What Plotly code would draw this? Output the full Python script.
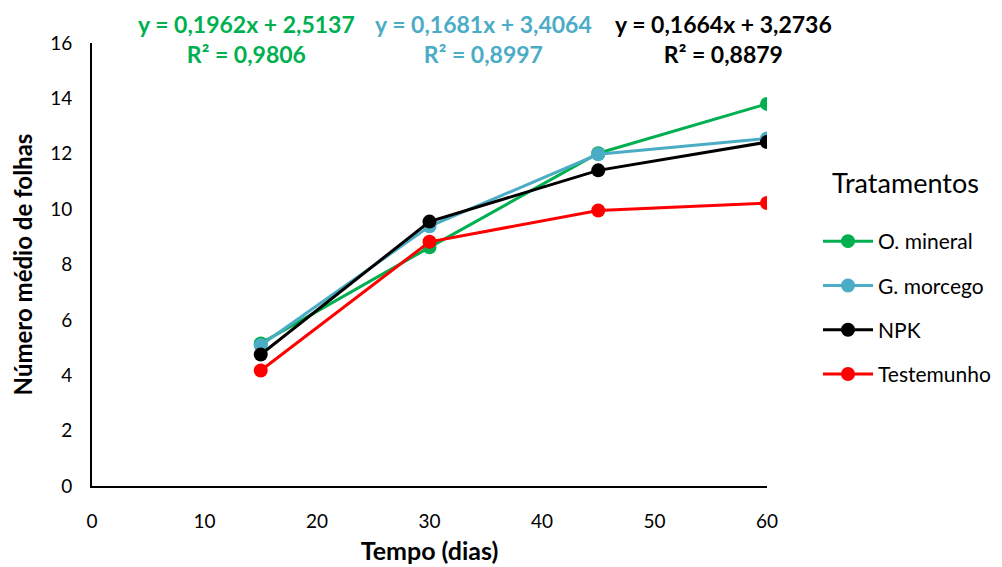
import plotly.graph_objects as go

dias = [15, 30, 45, 60]
o_mineral = [5.15, 8.62, 12.02, 13.8]
g_morcego = [5.08, 9.38, 11.98, 12.55]
npk = [4.75, 9.55, 11.4, 12.42]
testemunho = [4.17, 8.82, 9.95, 10.22]

series_names = ["O. mineral", "G. morcego", "NPK", "Testemunho"]
series_vals = [o_mineral, g_morcego, npk, testemunho]
colors = ["#00B050", "#4BACC6", "#000000", "#FF0000"]

equations = [
    "y = 0,1962x + 2,5137<br>R² = 0,9806",
    "y = 0,1681x + 3,4064<br>R² = 0,8997",
    "y = 0,1664x + 3,2736<br>R² = 0,8879",
]
legend_title = "Tratamentos"

FONT = "Lato, 'Open Sans', sans-serif"

# page body has an 8px margin: work in figure coordinates (screen - 8)
W, H = 994, 559
L, T = 84, 35
R = W - 759
B = H - 478
pw = W - L - R
ph = H - T - B

def px_x(px):
    return (px - 8 - L) / pw

def px_y(py):
    return 1 - (py - 8 - T) / ph

eq_x_px = [246, 483, 723]

fig = go.Figure()
for i, (name, vals, c) in enumerate(zip(series_names, series_vals, colors)):
    fig.add_trace(go.Scatter(
        x=dias, y=vals, name=name, mode="lines+markers",
        line=dict(color=c, width=3),
        marker=dict(color=c, size=14),
        legendgroup=f"g{i}",
    ))

for txt, px, c in zip(equations, eq_x_px, colors[:3]):
    fig.add_annotation(
        text=f"<b>{txt}</b>", xref="paper", yref="paper",
        x=px_x(px), y=px_y(39),
        xanchor="center", yanchor="middle", showarrow=False,
        font=dict(size=23, color=c, family=FONT), align="center",
    )

fig.add_annotation(
    text=legend_title, xref="paper", yref="paper",
    x=px_x(905), y=px_y(182), xanchor="center", yanchor="middle",
    showarrow=False, font=dict(size=27, color="black", family=FONT),
)

fig.update_layout(
    width=W, height=H,
    margin=dict(l=L, r=R, t=T, b=B, autoexpand=False),
    paper_bgcolor="white", plot_bgcolor="white",
    font=dict(family=FONT, size=19, color="black"),
    xaxis=dict(
        range=[0, 60], tickvals=[0, 10, 20, 30, 40, 50, 60],
        showgrid=False, zeroline=False, showline=True,
        linecolor="black", linewidth=2, ticks="", automargin=False,
        ticklabelstandoff=17,
        title=dict(text="<b>Tempo (dias)</b>", font=dict(size=25), standoff=12),
        tickfont=dict(size=19),
    ),
    yaxis=dict(
        range=[0, 16], tickvals=list(range(0, 17, 2)),
        showgrid=False, zeroline=False, showline=True,
        linecolor="black", linewidth=2, ticks="", automargin=False,
        ticklabelstandoff=14,
        title=dict(text="<b>Número médio de folhas</b>", font=dict(size=24), standoff=14),
        tickfont=dict(size=19),
    ),
    legend=dict(
        x=px_x(818), y=px_y(221),
        xanchor="left", yanchor="top",
        font=dict(size=21), tracegroupgap=14,
        itemwidth=50, bgcolor="rgba(0,0,0,0)",
    ),
)

fig.write_html("out.html")
